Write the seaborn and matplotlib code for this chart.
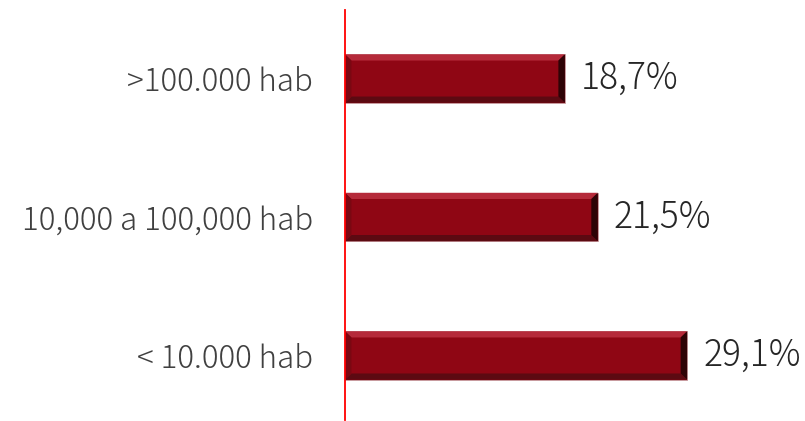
import matplotlib
matplotlib.use("Agg")
import matplotlib.pyplot as plt
import seaborn as sns
import pandas as pd
from matplotlib.patches import Polygon

categories = [">100.000 hab", "10,000 a 100,000 hab", "< 10.000 hab"]
values = [18.7, 21.5, 29.1]
labels = ["18,7%", "21,5%", "29,1%"]

sns.set_theme(style="white")
plt.rcParams['font.family'] = ['Noto Sans CJK JP', 'DejaVu Sans']

df = pd.DataFrame({"cat": categories, "val": values})
fig = plt.figure(figsize=(8.05, 4.21), dpi=100)
ax = fig.add_axes([345/805, 1 - 420/421, (800-345)/805, 410/421])

sns.barplot(data=df, y="cat", x="val", orient="h", color="#8f0614",
            width=0.35, ax=ax, saturation=1, edgecolor="#c9a0a4", linewidth=0.6)

ax.set_xlim(0, 38.7)
ax.set_ylim(2.466, -0.495)

bx = 0.55
by = 0.045
for p in ax.patches[:]:
    x0, y0 = p.get_x(), p.get_y()
    w, h = p.get_width(), p.get_height()
    x1, y1 = x0 + w, y0 + h
    top = Polygon([[x0, y0], [x1, y0], [x1 - bx, y0 + by], [x0 + bx, y0 + by]],
                  closed=True, facecolor="#b52a3a", edgecolor="none", zorder=3)
    bot = Polygon([[x0, y1], [x1, y1], [x1 - bx, y1 - by], [x0 + bx, y1 - by]],
                  closed=True, facecolor="#5c0a12", edgecolor="none", zorder=3)
    left = Polygon([[x0, y0], [x0 + bx, y0 + by], [x0 + bx, y1 - by], [x0, y1]],
                   closed=True, facecolor="#7a0812", edgecolor="none", zorder=3)
    right = Polygon([[x1, y0], [x1 - bx, y0 + by], [x1 - bx, y1 - by], [x1, y1]],
                    closed=True, facecolor="#2e0306", edgecolor="none", zorder=3)
    for poly in (top, bot, left, right):
        ax.add_patch(poly)

for i, (v, lab) in enumerate(zip(values, labels)):
    ax.text(v + 1.35, i, lab, va="center", ha="left", fontsize=25.5,
            color="#262626", fontweight="light", clip_on=False)

ax.set_xlabel("")
ax.set_ylabel("")
ax.set_xticks([])
ax.set_yticks(range(len(categories)))
ax.set_yticklabels(categories, fontsize=22.5, color="#404040", fontweight="light")
ax.tick_params(axis="y", length=0, pad=23)
for s in ["top", "right", "bottom"]:
    ax.spines[s].set_visible(False)
ax.spines["left"].set_color("#ff0000")
ax.spines["left"].set_linewidth(1.3)
ax.spines["left"].set_zorder(5)

fig.savefig("out.png", dpi=100)
